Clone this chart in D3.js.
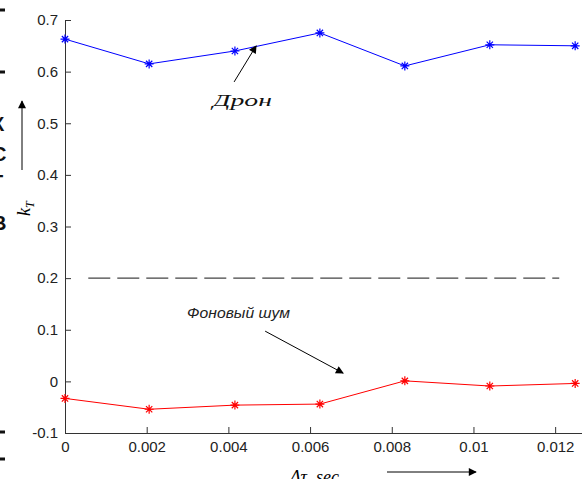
<!DOCTYPE html>
<html>
<head>
<meta charset="utf-8">
<script src="https://cdn.jsdelivr.net/npm/d3@7"></script>
<style>
  body { margin: 0; background: #fff; }
  svg { display: block; }
</style>
</head>
<body>
<svg id="chart" width="582" height="479"></svg>
<script>
// Данные
const dt = [0, 0.00206, 0.00416, 0.00624, 0.00832, 0.0104, 0.01249]
const dron = [0.663, 0.615, 0.640, 0.675, 0.611, 0.652, 0.650]
const shum = [-0.033, -0.054, -0.046, -0.044, 0.001, -0.009, -0.004]
const porog = 0.2
const porogX = [0.00057, 0.0121]
const xTicks = [0, 0.002, 0.004, 0.006, 0.008, 0.01, 0.012]
const yTicks = [-0.1, 0, 0.1, 0.2, 0.3, 0.4, 0.5, 0.6, 0.7]

const svg = d3.select('#chart')

const x = d3.scaleLinear()
    .domain([0, 0.013])
    .range([65, 596])

const y = d3.scaleLinear()
    .domain([-0.1, 0.7])
    .range([433, 20])

const axisColor = '#333'

// Оси
const xAxis = d3.axisBottom(x)
    .tickValues(xTicks)
    .tickFormat(d => d === 0 ? '0' : String(+d.toFixed(3)))
    .tickSizeInner(-6)
    .tickSizeOuter(0)
    .tickPadding(8)

svg.append('g')
    .attr('transform', `translate(0, ${y(-0.1)})`)
    .call(xAxis)
    .call(g => g.selectAll('path, line').attr('stroke', axisColor))
    .call(g => g.selectAll('text')
        .attr('font-family', '"Liberation Sans", Arial, sans-serif')
        .attr('font-size', 15)
        .attr('fill', '#222'))

const yAxis = d3.axisLeft(y)
    .tickValues(yTicks)
    .tickFormat(d => d === 0 ? '0' : String(+d.toFixed(1)))
    .tickSizeInner(-6)
    .tickSizeOuter(0)
    .tickPadding(7)

svg.append('g')
    .attr('transform', `translate(${x(0)}, 0)`)
    .call(yAxis)
    .call(g => g.selectAll('path, line').attr('stroke', axisColor))
    .call(g => g.selectAll('text')
        .attr('font-family', '"Liberation Sans", Arial, sans-serif')
        .attr('font-size', 15)
        .attr('fill', '#222'))

// Пороговая линия
svg.append('line')
    .attr('x1', x(porogX[0]))
    .attr('x2', x(porogX[1]))
    .attr('y1', y(porog))
    .attr('y2', y(porog))
    .attr('stroke', '#444')
    .attr('stroke-width', 1.3)
    .attr('stroke-dasharray', '22 7')

// Линии
const line = d3.line()
    .x((d, i) => x(dt[i]))
    .y(d => y(d))

const star = r => `M${-r},0H${r}M0,${-r}V${r}` +
    `M${-r * 0.7},${-r * 0.7}L${r * 0.7},${r * 0.7}` +
    `M${-r * 0.7},${r * 0.7}L${r * 0.7},${-r * 0.7}`

function serie(values, color) {
    svg.append('path')
        .datum(values)
        .attr('d', line)
        .attr('fill', 'none')
        .attr('stroke', color)
        .attr('stroke-width', 1)

    svg.append('g')
        .selectAll('path')
        .data(values)
        .join('path')
        .attr('transform', (d, i) => `translate(${x(dt[i])}, ${y(d)})`)
        .attr('d', star(4.5))
        .attr('stroke', color)
        .attr('stroke-width', 1.2)
}

serie(dron, '#0000ff')
serie(shum, '#ff0000')

// Стрелки
const defs = svg.append('defs')
defs.append('marker')
    .attr('id', 'head')
    .attr('viewBox', '0 0 10 10')
    .attr('refX', 9)
    .attr('refY', 5)
    .attr('markerWidth', 12)
    .attr('markerHeight', 8)
    .attr('markerUnits', 'userSpaceOnUse')
    .attr('orient', 'auto')
    .append('path')
    .attr('d', 'M0,0L10,5L0,10Z')
    .attr('fill', '#000')

function arrow(x1, y1, x2, y2) {
    svg.append('line')
        .attr('x1', x1).attr('y1', y1)
        .attr('x2', x2).attr('y2', y2)
        .attr('stroke', '#000')
        .attr('stroke-width', 1)
        .attr('marker-end', 'url(#head)')
}

// Подписи
arrow(x(0.00414), y(0.580), x(0.00468), y(0.650))
svg.append('text')
    .attr('x', x(0.00362))
    .attr('y', y(0.533))
    .attr('font-family', '"Liberation Serif", serif')
    .attr('font-style', 'italic')
    .attr('font-size', 17)
    .attr('fill', '#111')
    .attr('textLength', 59)
    .attr('lengthAdjust', 'spacingAndGlyphs')
    .text('Дрон')

arrow(x(0.0049), y(0.0973), x(0.00681), y(0.0159))
svg.append('text')
    .attr('x', x(0.00299))
    .attr('y', y(0.1225))
    .attr('font-family', '"Liberation Sans", Arial, sans-serif')
    .attr('font-style', 'italic')
    .attr('font-size', 14)
    .attr('fill', '#222')
    .attr('textLength', 103)
    .attr('lengthAdjust', 'spacingAndGlyphs')
    .text('Фоновый  шум')

// Подпись оси Y
arrow(22, 170, 22, 101)
svg.append('text')
    .attr('transform', 'translate(30, 216) rotate(-90)')
    .attr('font-family', '"Liberation Serif", serif')
    .attr('font-style', 'italic')
    .attr('font-size', 18)
    .text('k')
    .append('tspan')
    .attr('font-size', 12)
    .attr('dy', 4)
    .text('T')

// Подпись оси X
svg.append('text')
    .attr('x', 290)
    .attr('y', 483)
    .attr('font-family', '"Liberation Serif", serif')
    .attr('font-style', 'italic')
    .attr('font-size', 18)
    .text('Δτ, sec')
arrow(387, 472, 476, 472)

// Обрезанный текст слева
const edge = svg.append('g')
    .attr('font-family', '"Liberation Sans", Arial, sans-serif')
    .attr('font-weight', 'bold')
    .attr('font-size', 20)
    .attr('fill', '#111')
;[['К', 131], ['С', 161], ['Г', 189], ['В', 230]].forEach(([t, yy]) => {
    edge.append('text').attr('x', -8).attr('y', yy).text(t)
})
;[10, 72, 432, 459].forEach(yy => {
    svg.append('rect')
        .attr('x', 0).attr('y', yy - 1.5)
        .attr('width', 5).attr('height', 3)
        .attr('fill', '#111')
})
</script>
</body>
</html>
